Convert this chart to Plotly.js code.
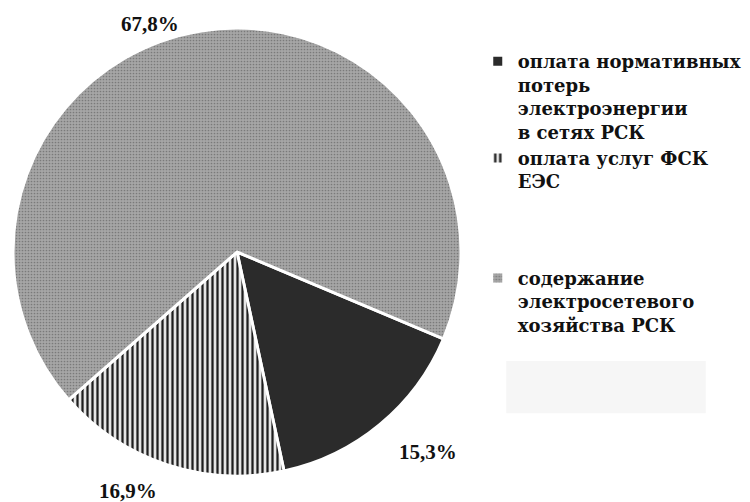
<!DOCTYPE html>
<html>
<head>
<meta charset="utf-8">
<script src="https://cdn.plot.ly/plotly-3.0.1.min.js"></script>
<style>
  html, body { margin: 0; padding: 0; background: #fff; }
  #chart { width: 750px; height: 502px; }
</style>
</head>
<body>
<div id="chart"></div>
<script>
// Структура затрат: доли, %
var categories = [
  'оплата нормативных<br>потерь<br>электроэнергии<br>в сетях РСК',
  'оплата услуг ФСК<br>ЕЭС<br> <br> <br> ',
  'содержание<br>электросетевого<br>хозяйства РСК'
];
var shares = [15.3, 16.9, 67.8];

var sliceColors = ['#2b2b2b', '#e6e6e6', '#a6a6a6'];
var sliceShapes = ['', '|', '.'];
var patternFg = ['#2b2b2b', '#1e1e1e', '#7a7a7a'];

function pct(v) { return v.toFixed(1).replace('.', ',') + '%'; }

var pie = {
  type: 'pie',
  labels: categories,
  values: shares,
  sort: false,
  direction: 'clockwise',
  rotation: 112.8,
  textinfo: 'none',
  hoverinfo: 'label+percent',
  domain: { x: [0.0173, 0.6147], y: [0.0518, 0.9442] },
  marker: {
    colors: sliceColors,
    line: { color: '#ffffff', width: 3 },
    pattern: {
      shape: sliceShapes,
      fgcolor: patternFg,
      bgcolor: sliceColors,
      size: [4, 5, 3],
      solidity: [0.3, 0.45, 0.25]
    }
  }
};

// подписи долей у секторов
var labelPos = [[0.571, 0.100], [0.171, 0.022], [0.200, 0.952]];
var annotations = shares.map(function (v, i) {
  return {
    xref: 'paper', yref: 'paper',
    x: labelPos[i][0], y: labelPos[i][1],
    xanchor: 'center', yanchor: 'middle',
    showarrow: false,
    text: pct(v),
    font: { family: 'Liberation Serif', size: 21, color: '#111', weight: 700 }
  };
});

var layout = {
  width: 750, height: 502,
  margin: { l: 0, r: 0, t: 0, b: 0, autoexpand: false },
  paper_bgcolor: '#ffffff',
  showlegend: true,
  legend: {
    x: 0.637, y: 0.914, xanchor: 'left', yanchor: 'top',
    valign: 'top',
    bgcolor: 'rgba(0,0,0,0)',
    font: { family: 'DejaVu Serif', size: 18, color: '#111', weight: 700 },
    itemclick: false, itemdoubleclick: false,
    tracegroupgap: 0
  },
  annotations: annotations,
  shapes: [{
    type: 'rect', xref: 'paper', yref: 'paper',
    x0: 0.675, x1: 0.941, y0: 0.177, y1: 0.281,
    fillcolor: '#f6f6f6', line: { width: 0 }, layer: 'below'
  }]
};

Plotly.newPlot('chart', [pie], layout, { displayModeBar: false, staticPlot: true });
</script>
</body>
</html>
